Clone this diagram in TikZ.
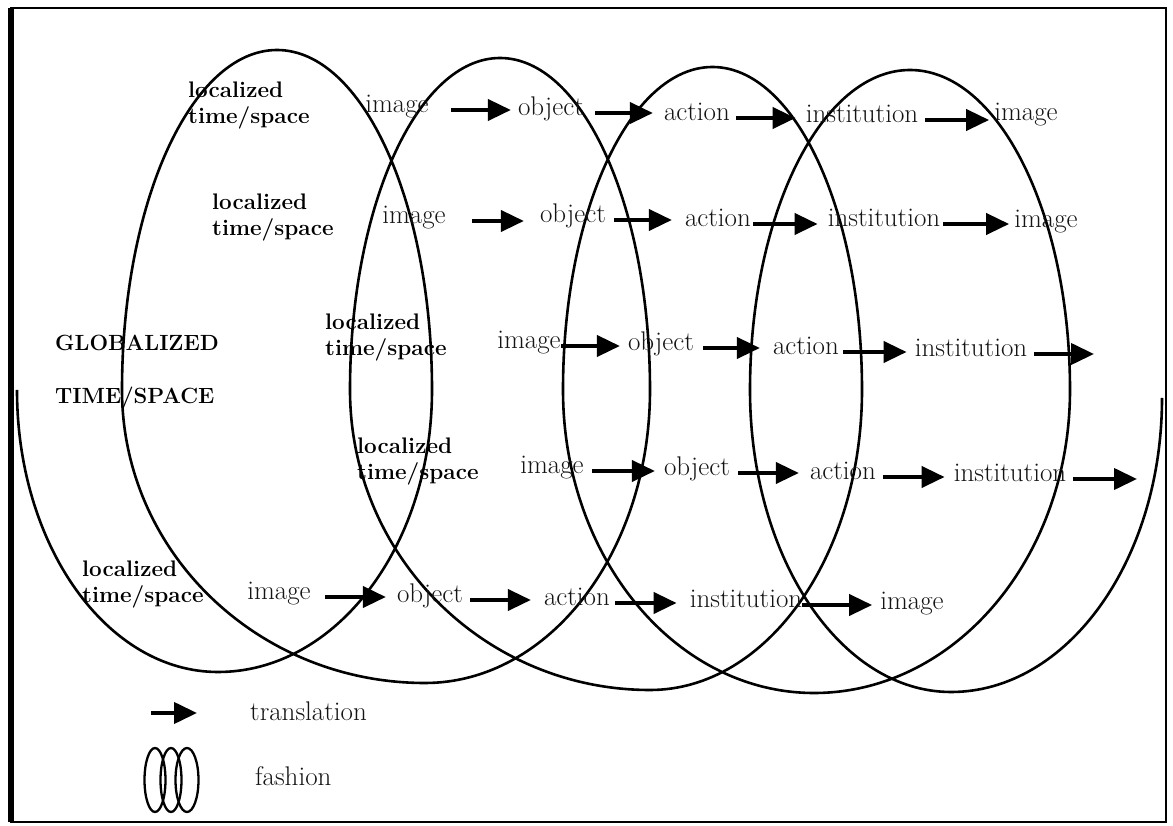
\documentclass[tikz,border=0pt]{standalone}
\usetikzlibrary{arrows.meta}
\newcommand\transl[4]{\draw[tarrow,shorten <=#3pt,shorten >=#4pt] (#1.mid east) -- (#1.mid east -| #2.mid west);}
\begin{document}
\begin{tikzpicture}[x=1pt,y=1pt,
  coil/.style={line width=2.6pt, line join=round},
  word/.style={inner sep=0pt, anchor=mid, text=black!92, font=\fontsize{27}{30}\selectfont},
  loc/.style={inner sep=0pt, anchor=north west, align=left, font=\bfseries\fontsize{22.5}{26}\selectfont},
  tarrow/.style={line width=4pt, -{Triangle[length=23pt,width=21pt]}},
]
\useasboundingbox (0,0) rectangle (1173,825);
% frame
\draw[line width=2.5pt] (11,3) rectangle (1166,817);
\draw[line width=6pt] (11,3) -- (11,817);

% coil (fashion)
\draw[coil] (17,435)
  arc[start angle=180,end angle=270,x radius=201pt,y radius=282pt]
  arc[start angle=270,end angle=360,x radius=214pt,y radius=282pt]
  arc[start angle=0,end angle=180,x radius=155pt,y radius=340pt]
  arc[start angle=180,end angle=270,x radius=303pt,y radius=293pt]
  arc[start angle=270,end angle=360,x radius=225pt,y radius=293pt]
  arc[start angle=0,end angle=180,x radius=150pt,y radius=332pt]
  arc[start angle=180,end angle=270,x radius=300pt,y radius=300pt]
  arc[start angle=270,end angle=360,x radius=212pt,y radius=300pt]
  arc[start angle=0,end angle=180,x radius=149.5pt,y radius=323pt]
  arc[start angle=180,end angle=270,x radius=251pt,y radius=303pt]
  arc[start angle=270,end angle=360,x radius=256pt,y radius=303pt]
  arc[start angle=0,end angle=180,x radius=160pt,y radius=320pt]
  arc[start angle=180,end angle=270,x radius=201pt,y radius=302pt]
  arc[start angle=270,end angle=360,x radius=211pt,y radius=294pt];

% labels
\node[loc, font=\bfseries\fontsize{22}{53}\selectfont] (g) at (55,490) {GLOBALIZED\\TIME/SPACE};
\node[loc] (l1) at (188,743) {localized\\time/space};
\node[loc] (l2) at (212,631) {localized\\time/space};
\node[loc] (l3) at (325,511) {localized\\time/space};
\node[loc] (l4) at (357,387) {localized\\time/space};
\node[loc] (l5) at (82,264) {localized\\time/space};

% row 1
\node[word] (r1im) at (397,715) {image};
\node[word] (r1ob) at (551,712) {object};
\node[word] (r1ac) at (697,707) {action};
\node[word] (r1in) at (862,705) {institution};
\node[word] (r1ie) at (1026,707) {image};
\transl{r1im}{r1ob}{22}{7}
\transl{r1ob}{r1ac}{11}{11}
\transl{r1ac}{r1in}{6}{10}
\transl{r1in}{r1ie}{7}{5}
% row 2
\node[word] (r2im) at (414,604) {image};
\node[word] (r2ob) at (573,605) {object};
\node[word] (r2ac) at (718,601) {action};
\node[word] (r2in) at (884,601) {institution};
\node[word] (r2ie) at (1046,600) {image};
\transl{r2im}{r2ob}{26}{16}
\transl{r2ob}{r2ac}{8}{13}
\transl{r2ac}{r2in}{2}{10}
\transl{r2in}{r2ie}{3}{5}
% row 3
\node[word] (r3im) at (529,479) {image};
\node[word] (r3ob) at (661,477) {object};
\node[word] (r3ac) at (806,473) {action};
\node[word] (r3in) at (971,471) {institution};
\coordinate (r3end) at (1094,471);
\transl{r3im}{r3ob}{0}{8}
\transl{r3ob}{r3ac}{9}{13}
\transl{r3ac}{r3in}{4}{8}
\draw[tarrow,shorten <=7pt] (r3in.mid east) -- (r3in.mid east -| r3end);
% row 4
\node[word] (r4im) at (552,354) {image};
\node[word] (r4ob) at (697,352) {object};
\node[word] (r4ac) at (843,348) {action};
\node[word] (r4in) at (1010,346) {institution};
\coordinate (r4end) at (1137,347);
\transl{r4im}{r4ob}{8}{9}
\transl{r4ob}{r4ac}{8}{11}
\transl{r4ac}{r4in}{7}{9}
\draw[tarrow,shorten <=7pt] (r4in.mid east) -- (r4in.mid east -| r4end);
% row 5
\node[word] (r5im) at (279,228) {image};
\node[word] (r5ob) at (430,225) {object};
\node[word] (r5ac) at (577,222) {action};
\node[word] (r5in) at (746,220) {institution};
\node[word] (r5ie) at (912,218) {image};
\transl{r5im}{r5ob}{14}{11}
\transl{r5ob}{r5ac}{7}{13}
\transl{r5ac}{r5in}{5}{13}
\transl{r5in}{r5ie}{0}{8}

% legend
\coordinate (lgA) at (151,112);
\coordinate (lgB) at (197,112);
\draw[tarrow] (lgA) -- (lgB);
\node[word, anchor=mid west] (lgt) at (250,107) {translation};
\draw[line width=2.3pt] (155,45) ellipse [x radius=10.5pt, y radius=32pt];
\draw[line width=2.3pt] (171,45) ellipse [x radius=10.5pt, y radius=32pt];
\draw[line width=2.3pt] (187,45) ellipse [x radius=11.5pt, y radius=32pt];
\node[word, anchor=mid west] (lgf) at (255,42) {fashion};
\end{tikzpicture}
\end{document}
